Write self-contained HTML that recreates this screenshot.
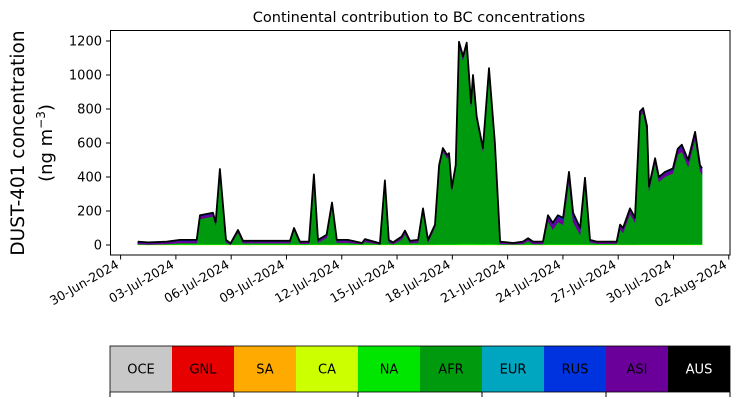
<!DOCTYPE html>
<html><head><meta charset="utf-8"><style>
body{margin:0;background:#fff;width:739px;height:402px;overflow:hidden}
svg{font-family:"DejaVu Sans","Liberation Sans",sans-serif}
</style></head><body>
<svg id="c" width="739" height="402">
<text x="419" y="22" text-anchor="middle" font-size="14.5">Continental contribution to BC concentrations</text>
<text transform="translate(24,143) rotate(-90)" text-anchor="middle" font-size="18.5">DUST-401 concentration</text>
<text transform="translate(52,143) rotate(-90)" text-anchor="middle" font-size="18">(ng m<tspan dy="-7" font-size="12">−3</tspan><tspan dy="7">)</tspan></text>
<g id="plot"></g>
<g id="cbar"></g>
</svg>
<script>
const days=[0.93,1.49,2.50,3.22,4.13,4.31,5.01,5.16,5.39,5.72,5.97,6.37,6.64,7.56,9.19,9.41,9.73,10.22,10.49,10.71,11.18,11.47,11.73,12.34,13.10,13.26,14.07,14.34,14.55,14.78,15.25,15.43,15.70,16.14,16.41,16.68,17.06,17.28,17.49,17.71,17.82,17.97,18.18,18.36,18.58,18.78,19.01,19.12,19.32,19.66,19.99,20.31,20.59,21.29,21.83,22.11,22.38,22.92,23.19,23.45,23.73,24.01,24.33,24.55,24.93,25.20,25.47,25.83,26.92,27.10,27.26,27.64,27.91,28.18,28.35,28.56,28.67,29.00,29.21,29.54,29.97,30.23,30.45,30.79,31.17,31.44,31.55];
const total=[20,15,20,30,30,175,190,135,447,30,10,88,25,25,25,100,20,20,415,30,60,250,30,30,12,35,10,380,30,15,50,85,25,30,215,30,120,470,570,530,540,335,470,1195,1110,1190,835,1000,755,570,1040,600,20,12,20,40,20,20,175,130,175,160,430,190,100,395,30,20,20,120,100,215,160,785,805,700,345,510,400,430,450,565,590,500,665,470,450];
const asi=[14,12,14,18,18,22,22,20,18,16,8,14,14,14,14,14,12,12,14,16,18,18,16,16,8,16,7,14,16,10,18,20,14,16,18,16,16,20,20,20,20,18,18,22,22,22,20,20,20,18,20,18,14,8,14,16,14,14,35,40,40,40,55,55,40,40,14,12,12,28,28,32,28,28,28,28,25,28,28,28,28,35,40,40,40,35,35];
const na=[5,4,5,6,6,6,6,6,6,6,4,5,5,5,5,5,4,4,5,5,5,5,5,5,4,5,3,5,5,4,5,5,5,5,5,5,5,6,6,6,6,6,6,8,8,8,8,8,8,6,8,6,4,4,4,5,4,4,6,6,6,6,6,6,6,6,4,4,4,5,5,5,5,6,6,6,6,6,6,6,6,6,6,6,6,6,6];
const yTicks=[0,200,400,600,800,1000,1200];
const xTickDays=[0,3,6,9,12,15,18,21,24,27,30,33];
const xTickLabels=["30-Jun-2024","03-Jul-2024","06-Jul-2024","09-Jul-2024","12-Jul-2024","15-Jul-2024","18-Jul-2024","21-Jul-2024","24-Jul-2024","27-Jul-2024","30-Jul-2024","02-Aug-2024"];
const regions=["OCE","GNL","SA","CA","NA","AFR","EUR","RUS","ASI","AUS"];
const regionColors=["#c8c8c8","#e60000","#ffaa00","#ccff00","#00e600","#009a0f","#00a5bf","#0033e0","#6a0099","#000000"];

const NS="http://www.w3.org/2000/svg";
const plot=document.getElementById('plot');
const X=d=>120.6+d*18.43;
const Y=v=>245-v*0.17;
function mk(tag,attrs,parent){const e=document.createElementNS(NS,tag);for(const k in attrs)e.setAttribute(k,attrs[k]);(parent||plot).appendChild(e);return e;}
function area(lo,hi,color,name){
  let d='M'+days.map((t,i)=>X(t).toFixed(1)+','+Y(hi(i)).toFixed(1)).join('L');
  for(let i=days.length-1;i>=0;i--)d+='L'+X(days[i]).toFixed(1)+','+Y(lo(i)).toFixed(1);
  const p=mk('path',{d:d+'Z',fill:color,stroke:color,'stroke-width':0.5});
  
  
}
area(i=>0,i=>2,regionColors[3],'area-ca');
area(i=>2,i=>na[i],regionColors[4],'area-na');
area(i=>na[i],i=>total[i]-asi[i],regionColors[5],'area-afr');
area(i=>total[i]-asi[i],i=>total[i]-asi[i]*0.3,regionColors[8],'area-asi');
area(i=>total[i]-asi[i]*0.3,i=>total[i]-asi[i]*0.1,regionColors[7],'area-rus');
const ln=mk('polyline',{points:days.map((t,i)=>X(t).toFixed(1)+','+Y(total[i]).toFixed(1)).join(' '),fill:'none',stroke:'#000','stroke-width':1.8,'stroke-linejoin':'round'});


const fr=mk('rect',{x:110.5,y:30.5,width:619.5,height:224.5,fill:'none',stroke:'#000','stroke-width':1});


yTicks.forEach(v=>{
  const tk=mk('line',{x1:106,x2:110.5,y1:Y(v),y2:Y(v),stroke:'#000'});
  
  
  const t=mk('text',{x:102,y:Y(v)+4.5,'text-anchor':'end','font-size':13});
  t.textContent=v;
  
  
});
xTickDays.forEach((dd,i)=>{
  const x=X(dd);
  const tk=mk('line',{x1:x,x2:x,y1:255,y2:259.5,stroke:'#000'});
  
  
  const t=mk('text',{transform:`translate(${x-1},${267}) rotate(-30)`,'text-anchor':'end','font-size':12.5});
  t.textContent=xTickLabels[i];
  
  
});
const cb=document.getElementById('cbar');
const cw=62;
regions.forEach((r,i)=>{
  const rc=mk('rect',{x:110+i*cw,y:346,width:cw,height:46,fill:regionColors[i]},cb);
  
  
  const t=mk('text',{x:110+i*cw+cw/2,y:373.5,'text-anchor':'middle','font-size':13,fill:r==='AUS'?'#fff':'#000'},cb);
  t.textContent=r;
  
  
});
const cf=mk('rect',{x:110,y:346,width:620,height:46,fill:'none',stroke:'#000','stroke-width':0.8},cb);


[0,2,4,6,8,10].forEach(k=>{
  const tk=mk('line',{x1:110+k*cw,x2:110+k*cw,y1:392,y2:397,stroke:'#000'},cb);
  
  
});
</script>
</body></html>
